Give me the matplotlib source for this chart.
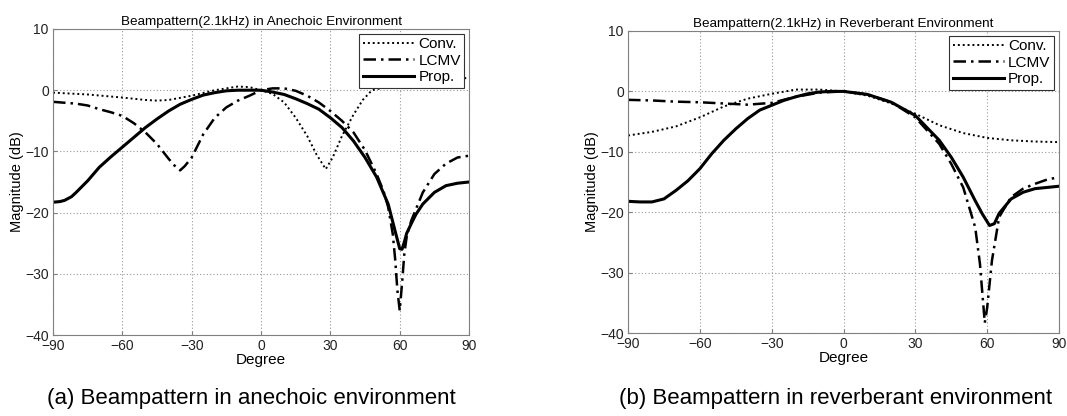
import numpy as np
import matplotlib.pyplot as plt

plt.rcParams['font.family'] = ['Liberation Sans', 'DejaVu Sans']

# angles (deg) and magnitudes (dB)
deg_conv_a = [-90, -75, -60, -50, -45, -40, -30, -20, -10, -5, 0, 5, 10, 15, 20, 24, 28, 31, 35, 40, 44, 48, 60, 70, 80, 90]
conv_a = [-0.4, -0.7, -1.2, -1.6, -1.7, -1.6, -0.9, 0.0, 0.6, 0.5, 0.0, -0.6, -2.0, -4.5, -7.5, -10.5, -12.9, -11.0, -7.5, -4.0, -1.6, 0.0, 1.0, 1.5, 1.8, 2.0]

deg_lcmv_a = [-90, -80, -75, -70, -65, -60, -55, -50, -45, -40, -37, -35, -33, -30, -25, -20, -15, -10, -5, 0, 5, 10, 15, 20, 25, 30, 35, 40, 45, 50, 53, 55, 57, 58, 59, 60, 61, 62, 63, 65, 70, 75, 80, 85, 90]
lcmv_a = [-1.9, -2.2, -2.5, -3.1, -3.6, -4.2, -5.4, -6.9, -8.8, -11.2, -12.5, -13.1, -12.4, -11.0, -7.2, -4.5, -2.8, -1.7, -0.9, 0.0, 0.3, 0.3, -0.1, -0.9, -2.0, -3.4, -5.0, -6.9, -9.8, -13.7, -16.5, -19.1, -23.5, -27.5, -32.7, -36.0, -31.6, -26.7, -24.0, -21.3, -16.7, -13.7, -12.0, -11.0, -10.7]

deg_prop_a = [-90, -87, -85, -82, -80, -75, -70, -65, -60, -55, -50, -45, -40, -35, -30, -25, -20, -15, -10, -5, 0, 5, 10, 15, 20, 25, 30, 35, 40, 45, 50, 55, 58, 60, 61, 62, 63, 65, 67, 70, 75, 80, 85, 90]
prop_a = [-18.3, -18.2, -18.0, -17.4, -16.7, -14.8, -12.6, -10.9, -9.3, -7.7, -6.1, -4.7, -3.4, -2.3, -1.5, -0.8, -0.4, -0.1, 0.0, 0.0, 0.0, -0.3, -0.7, -1.4, -2.2, -3.1, -4.5, -6.1, -8.3, -11.0, -14.2, -18.6, -23.0, -25.9, -26.0, -24.8, -23.4, -21.8, -20.3, -18.6, -16.7, -15.6, -15.2, -15.0]

deg_conv_b = [-90, -80, -70, -60, -50, -40, -30, -20, -10, 0, 10, 20, 30, 40, 50, 60, 70, 80, 90]
conv_b = [-7.3, -6.7, -5.8, -4.3, -2.5, -1.2, -0.4, 0.3, 0.3, 0.0, -0.7, -2.0, -3.7, -5.6, -6.9, -7.7, -8.1, -8.3, -8.4]

deg_lcmv_b = [-90, -80, -70, -60, -50, -40, -30, -20, -10, 0, 10, 20, 30, 40, 45, 50, 55, 57, 58, 59, 60, 62, 65, 70, 75, 80, 85, 90]
lcmv_b = [-1.4, -1.5, -1.7, -1.8, -2.0, -2.2, -1.9, -0.9, -0.2, 0.0, -0.5, -1.8, -4.3, -8.7, -12.0, -15.9, -22.5, -28.6, -33.5, -38.3, -35.8, -28.0, -20.8, -17.5, -16.1, -15.3, -14.6, -14.2]

deg_prop_b = [-90, -85, -80, -75, -70, -65, -60, -55, -50, -45, -40, -35, -30, -25, -20, -15, -10, -5, 0, 10, 20, 30, 40, 45, 50, 55, 58, 61, 63, 65, 70, 75, 80, 85, 90]
prop_b = [-18.2, -18.3, -18.3, -17.8, -16.4, -14.8, -12.8, -10.3, -8.1, -6.2, -4.5, -3.1, -2.3, -1.5, -0.9, -0.4, -0.1, 0.0, 0.0, -0.5, -1.8, -4.0, -8.1, -10.9, -14.2, -18.1, -20.3, -22.2, -21.9, -20.2, -17.8, -16.7, -16.1, -15.9, -15.7]

xticks = [-90, -60, -30, 0, 30, 60, 90]
yticks = [10, 0, -10, -20, -30, -40]

panels = [
    ([0.0497, 0.1947, 0.3899, 0.7356], 'Beampattern(2.1kHz) in Anechoic Environment',
     (deg_conv_a, conv_a), (deg_lcmv_a, lcmv_a), (deg_prop_a, prop_a),
     0.236, '(a) Beampattern in anechoic environment'),
    ([0.5886, 0.1995, 0.4039, 0.726], 'Beampattern(2.1kHz) in Reverberant Environment',
     (deg_conv_b, conv_b), (deg_lcmv_b, lcmv_b), (deg_prop_b, prop_b),
     0.783, '(b) Beampattern in reverberant environment'),
]

fig = plt.figure(figsize=(10.67, 4.16), dpi=100)

for rect, title, conv, lcmv, prop, cap_x, caption in panels:
    ax = fig.add_axes(rect)
    ax.plot(*conv, color='black', linestyle=(0, (1, 1.5)), linewidth=1.4, label='Conv.')
    ax.plot(*lcmv, color='black', linestyle=(0, (5, 2, 1, 2)), linewidth=1.8, label='LCMV')
    ax.plot(*prop, color='black', linestyle='-', linewidth=2.2, label='Prop.')
    ax.set_xlim(-90, 90)
    ax.set_ylim(-40, 10)
    ax.set_xticks(xticks)
    ax.set_yticks(yticks)
    ax.set_xticklabels([str(t).replace('-', '\u2212') for t in xticks])
    ax.set_yticklabels([str(t).replace('-', '\u2212') for t in yticks])
    ax.tick_params(direction='in', length=3, labelsize=10, pad=3, color='#808080',
                   labelcolor='#222222')
    for sp in ax.spines.values():
        sp.set_color('#808080')
    ax.grid(True, color='#999999', linestyle=(0, (1, 2)), linewidth=0.8)
    ax.set_title(title, fontsize=9.7, pad=3)
    ax.set_xlabel('Degree', fontsize=11, labelpad=0)
    ax.set_ylabel('Magnitude (dB)', fontsize=10.5, labelpad=1)
    leg = ax.legend(loc='upper right', fontsize=11, fancybox=False, framealpha=1,
                    edgecolor='#333333', handlelength=3.3, borderaxespad=0.3,
                    labelspacing=0.15, borderpad=0.25, handletextpad=0.3)
    leg.get_frame().set_linewidth(0.8)
    fig.text(cap_x, 0.042, caption, ha='center', va='center', fontsize=16)

plt.savefig('out.png', dpi=100)
